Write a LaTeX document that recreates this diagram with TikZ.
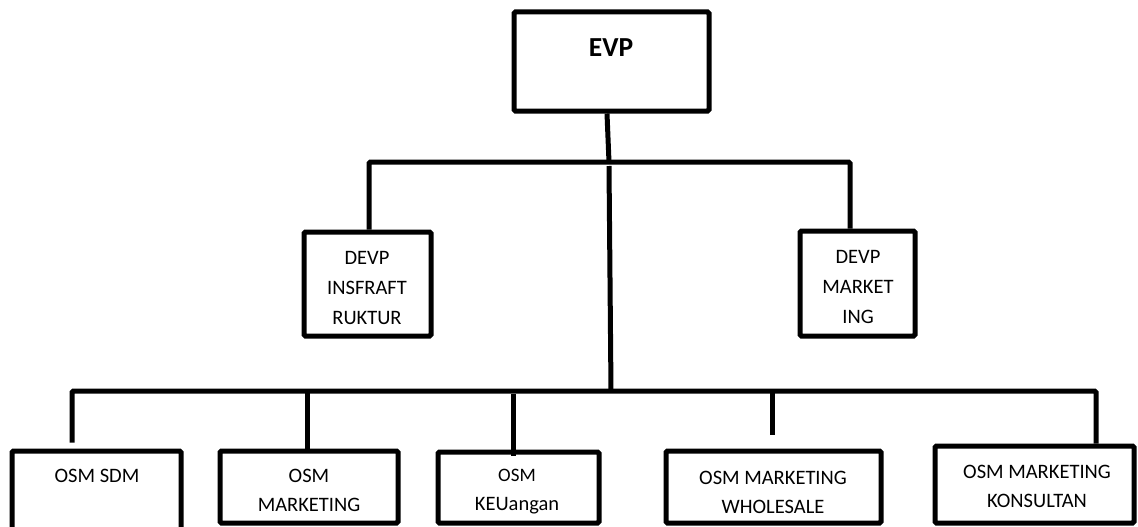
\documentclass[tikz,border=0pt]{standalone}
\usepackage{fontspec}
\setmainfont{Carlito}
\begin{document}
\begin{tikzpicture}[x=1pt,y=-1pt,
  box/.style={draw=black,line width=5pt,rounded corners=1.5pt,fill=white,inner sep=0pt},
  conn/.style={draw=black,line width=5pt},
  lbl/.style={align=center,inner sep=0pt,font=\fontsize{20.5}{30}\selectfont},
  blbl/.style={align=center,inner sep=0pt,font=\fontsize{20.5}{29}\selectfont}]
\useasboundingbox (0,0) rectangle (1138,527);
\begin{scope}
\clip (0,0) rectangle (1138,527);
% boxes
\node[box,minimum width=195pt,minimum height=99pt] (evp) at (611.5,61.5) {};
\node[box,minimum width=127pt,minimum height=104pt] (d1) at (367.5,284) {};
\node[box,minimum width=115pt,minimum height=105pt] (d2) at (857.5,283.5) {};
\node[box,minimum width=169pt,minimum height=81pt] (b1) at (96.5,491.5) {};
\node[box,minimum width=178pt,minimum height=72pt] (b2) at (309,487) {};
\node[box,minimum width=161pt,minimum height=71pt] (b3) at (518.5,487.5) {};
\node[box,minimum width=215pt,minimum height=72pt] (b4) at (773.5,487) {};
\node[box,minimum width=199pt,minimum height=77pt] (b5) at (1034.5,484.5) {};
\end{scope}
% texts
\node[inner sep=0pt,font=\fontsize{27.5}{27.5}\selectfont\bfseries] (tevp) at (611,48) {EVP};
\node[lbl] (td1) at (367,288) {DEVP\\INSFRAFT\\RUKTUR};
\node[lbl] (td2) at (858,287) {DEVP\\MARKET\\ING};
\node[blbl] (tb1) at (97,476) {OSM SDM};
\node[blbl] (tb2) at (309,490.5) {OSM\\MARKETING};
\node[blbl] (tb3) at (517,492) {{\fontsize{19}{19}\selectfont OSM}\\KEUangan};
\node[blbl] (tb4) at (773,492) {OSM MARKETING\\WHOLESALE};
\node[blbl] (tb5) at (1037,486) {OSM MARKETING\\KONSULTAN};
% junctions
\coordinate (j0) at (609,162);
\coordinate (j1) at (369,162);
\coordinate (j2) at (850,162);
\coordinate (k0) at (611,391);
\coordinate (k1) at (72,391);
\coordinate (k2) at (307,391);
\coordinate (k3) at (513,391);
\coordinate (k4) at (772,391);
\coordinate (k5) at (1096,391);
% connectors
\draw[conn] (evp.south -| 607,0) -- (j0);
\draw[conn,rounded corners=1.5pt] (j1 |- d1.north) -- (j1) -- (j2) -- (j2 |- d2.north);
\draw[conn] (j0) ++(0,4) -- (k0);
\draw[conn,rounded corners=1.5pt] (k1 |- b1.north) ++(0,-6) -- (k1) -- (k5) -- (k5 |- b5.north);
\draw[conn] (k2) -- (k2 |- b2.north);
\draw[conn] (k3) ++(0,3) -- ([yshift=-6pt]k3 |- b3.north);
\draw[conn] (k4) -- (772,435);
\end{tikzpicture}
\end{document}
